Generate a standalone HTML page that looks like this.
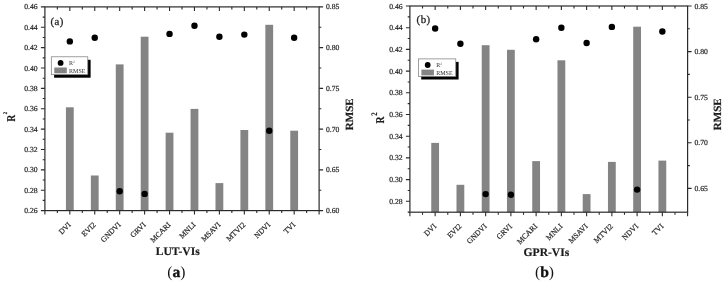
<!DOCTYPE html>
<html><head><meta charset="utf-8"><title>LUT-VIs vs GPR-VIs</title>
<style>
html,body{margin:0;padding:0;background:#fff;}
body{width:728px;height:284px;overflow:hidden;}
svg{display:block;}
text{font-family:'Liberation Serif', 'Times New Roman', serif;fill:#262626;stroke:#262626;stroke-width:0.2px;text-rendering:geometricPrecision;}
.t{font-size:7.7px;}
.b{font-weight:bold;fill:#1a1a1a;}
</style></head><body>
<svg width="728" height="284" viewBox="0 0 728 284">
<rect width="728" height="284" fill="#fff"/>
<g>
<rect x="65.93" y="107.3" width="7.8" height="103.3" fill="#848484"/>
<rect x="90.85" y="175.5" width="7.8" height="35.1" fill="#848484"/>
<rect x="115.78" y="64.4" width="7.8" height="146.2" fill="#848484"/>
<rect x="140.71" y="36.7" width="7.8" height="173.9" fill="#848484"/>
<rect x="165.64" y="132.7" width="7.8" height="77.9" fill="#848484"/>
<rect x="190.56" y="108.9" width="7.8" height="101.7" fill="#848484"/>
<rect x="215.49" y="183.1" width="7.8" height="27.5" fill="#848484"/>
<rect x="240.42" y="130" width="7.8" height="80.6" fill="#848484"/>
<rect x="265.35" y="24.8" width="7.8" height="185.8" fill="#848484"/>
<rect x="290.27" y="130.7" width="7.8" height="79.9" fill="#848484"/>
<circle cx="69.83" cy="41.4" r="3.2" fill="#000"/>
<circle cx="94.75" cy="37.7" r="3.2" fill="#000"/>
<circle cx="119.68" cy="191.3" r="3.2" fill="#000"/>
<circle cx="144.61" cy="193.9" r="3.2" fill="#000"/>
<circle cx="169.54" cy="33.9" r="3.2" fill="#000"/>
<circle cx="194.46" cy="25.8" r="3.2" fill="#000"/>
<circle cx="219.39" cy="36.8" r="3.2" fill="#000"/>
<circle cx="244.32" cy="34.6" r="3.2" fill="#000"/>
<circle cx="269.25" cy="130.7" r="3.2" fill="#000"/>
<circle cx="294.17" cy="37.7" r="3.2" fill="#000"/>
<rect x="44.9" y="6.9" width="274.2" height="203.7" fill="none" stroke="#2a2a2a" stroke-width="1.2"/>
<text class="t" x="37.7" y="9.4" text-anchor="end">0.46</text>
<text class="t" x="37.7" y="29.77" text-anchor="end">0.44</text>
<text class="t" x="37.7" y="50.14" text-anchor="end">0.42</text>
<text class="t" x="37.7" y="70.51" text-anchor="end">0.40</text>
<text class="t" x="37.7" y="90.88" text-anchor="end">0.38</text>
<text class="t" x="37.7" y="111.25" text-anchor="end">0.36</text>
<text class="t" x="37.7" y="131.62" text-anchor="end">0.34</text>
<text class="t" x="37.7" y="151.99" text-anchor="end">0.32</text>
<text class="t" x="37.7" y="172.36" text-anchor="end">0.30</text>
<text class="t" x="37.7" y="192.73" text-anchor="end">0.28</text>
<text class="t" x="37.7" y="213.1" text-anchor="end">0.26</text>
<text class="t" x="325.9" y="9.4">0.85</text>
<text class="t" x="325.9" y="50.14">0.80</text>
<text class="t" x="325.9" y="90.88">0.75</text>
<text class="t" x="325.9" y="131.62">0.70</text>
<text class="t" x="325.9" y="172.36">0.65</text>
<text class="t" x="325.9" y="213.1">0.60</text>
<path d="M44.9 6.9h-4 M44.9 27.27h-4 M44.9 47.64h-4 M44.9 68.01h-4 M44.9 88.38h-4 M44.9 108.75h-4 M44.9 129.12h-4 M44.9 149.49h-4 M44.9 169.86h-4 M44.9 190.23h-4 M44.9 210.6h-4 M44.9 17.09h-2.2 M44.9 37.45h-2.2 M44.9 57.83h-2.2 M44.9 78.19h-2.2 M44.9 98.56h-2.2 M44.9 118.94h-2.2 M44.9 139.31h-2.2 M44.9 159.68h-2.2 M44.9 180.05h-2.2 M44.9 200.42h-2.2 M319.1 6.9h4 M319.1 47.64h4 M319.1 88.38h4 M319.1 129.12h4 M319.1 169.86h4 M319.1 210.6h4 M319.1 27.27h2.2 M319.1 68.01h2.2 M319.1 108.75h2.2 M319.1 149.49h2.2 M319.1 190.23h2.2 M57.36 6.9v2.5 M57.36 210.6v2.5 M69.83 6.9v4 M69.83 210.6v4 M82.29 6.9v2.5 M82.29 210.6v2.5 M94.75 6.9v4 M94.75 210.6v4 M107.22 6.9v2.5 M107.22 210.6v2.5 M119.68 6.9v4 M119.68 210.6v4 M132.15 6.9v2.5 M132.15 210.6v2.5 M144.61 6.9v4 M144.61 210.6v4 M157.07 6.9v2.5 M157.07 210.6v2.5 M169.54 6.9v4 M169.54 210.6v4 M182 6.9v2.5 M182 210.6v2.5 M194.46 6.9v4 M194.46 210.6v4 M206.93 6.9v2.5 M206.93 210.6v2.5 M219.39 6.9v4 M219.39 210.6v4 M231.85 6.9v2.5 M231.85 210.6v2.5 M244.32 6.9v4 M244.32 210.6v4 M256.78 6.9v2.5 M256.78 210.6v2.5 M269.25 6.9v4 M269.25 210.6v4 M281.71 6.9v2.5 M281.71 210.6v2.5 M294.17 6.9v4 M294.17 210.6v4 M306.64 6.9v2.5 M306.64 210.6v2.5 M44.9 210.6v4 M319.1 210.6v4" stroke="#2a2a2a" stroke-width="1.1" fill="none"/>
<text class="t" x="71.43" y="225.2" text-anchor="end" transform="rotate(-45 71.43 225.2)">DVI</text>
<text class="t" x="96.35" y="225.2" text-anchor="end" transform="rotate(-45 96.35 225.2)">EVI2</text>
<text class="t" x="121.28" y="225.2" text-anchor="end" transform="rotate(-45 121.28 225.2)">GNDVI</text>
<text class="t" x="146.21" y="225.2" text-anchor="end" transform="rotate(-45 146.21 225.2)">GRVI</text>
<text class="t" x="171.14" y="225.2" text-anchor="end" transform="rotate(-45 171.14 225.2)">MCARI</text>
<text class="t" x="196.06" y="225.2" text-anchor="end" transform="rotate(-45 196.06 225.2)">MNLI</text>
<text class="t" x="220.99" y="225.2" text-anchor="end" transform="rotate(-45 220.99 225.2)">MSAVI</text>
<text class="t" x="245.92" y="225.2" text-anchor="end" transform="rotate(-45 245.92 225.2)">MTVI2</text>
<text class="t" x="270.85" y="225.2" text-anchor="end" transform="rotate(-45 270.85 225.2)">NDVI</text>
<text class="t" x="295.77" y="225.2" text-anchor="end" transform="rotate(-45 295.77 225.2)">TVI</text>
<text x="50.4" y="25" style="font-size:10.8px;stroke-width:0.3px;letter-spacing:0.45px">(a)</text>
<rect x="54.1" y="59.8" width="36.5" height="17.9" fill="#000"/>
<rect x="51.3" y="56.8" width="36.5" height="17.9" fill="#fff" stroke="#777" stroke-width="0.7"/>
<circle cx="60.6" cy="62.9" r="2.9" fill="#000"/>
<rect x="54.3" y="67.5" width="12.5" height="5.8" fill="#848484"/>
<text x="69.1" y="64.9" style="font-size:6px;stroke:none;fill:#333">R<tspan dy="-2.4" style="font-size:3.6px">2</tspan></text>
<text x="69.1" y="72.8" style="font-size:6px;stroke:none;fill:#333" textLength="16.4" lengthAdjust="spacingAndGlyphs">RMSE</text>
<text class="b" x="0" y="0" style="font-size:12px" transform="translate(14.6 121.7) rotate(-90) scale(0.8 1)">R<tspan dx="0.6" dy="-7.8" style="font-size:5.6px">2</tspan></text>
<text class="b" x="0" y="0" text-anchor="middle" style="font-size:11px" transform="translate(353 114.3) rotate(-90)">RMSE</text>
<text class="b" x="177.7" y="255.4" text-anchor="middle" style="font-size:11.6px">LUT-VIs</text>
<text x="176.4" y="277" text-anchor="middle" style="font-size:15.6px;fill:#111;stroke:none">(<tspan style="font-weight:bold;stroke:#111;stroke-width:0.3px">a</tspan>)</text>
</g>
<g>
<rect x="431.25" y="142.9" width="7.8" height="69.3" fill="#848484"/>
<rect x="456.49" y="184.8" width="7.8" height="27.4" fill="#848484"/>
<rect x="481.74" y="45.2" width="7.8" height="167" fill="#848484"/>
<rect x="506.98" y="49.8" width="7.8" height="162.4" fill="#848484"/>
<rect x="532.23" y="161.1" width="7.8" height="51.1" fill="#848484"/>
<rect x="557.47" y="60.3" width="7.8" height="151.9" fill="#848484"/>
<rect x="582.72" y="194.1" width="7.8" height="18.1" fill="#848484"/>
<rect x="607.96" y="161.9" width="7.8" height="50.3" fill="#848484"/>
<rect x="633.21" y="26.7" width="7.8" height="185.5" fill="#848484"/>
<rect x="658.45" y="160.6" width="7.8" height="51.6" fill="#848484"/>
<circle cx="435.15" cy="28.5" r="3.2" fill="#000"/>
<circle cx="460.39" cy="43.8" r="3.2" fill="#000"/>
<circle cx="485.64" cy="194.1" r="3.2" fill="#000"/>
<circle cx="510.88" cy="194.7" r="3.2" fill="#000"/>
<circle cx="536.13" cy="39.2" r="3.2" fill="#000"/>
<circle cx="561.37" cy="27.8" r="3.2" fill="#000"/>
<circle cx="586.62" cy="43" r="3.2" fill="#000"/>
<circle cx="611.86" cy="26.9" r="3.2" fill="#000"/>
<circle cx="637.11" cy="189.6" r="3.2" fill="#000"/>
<circle cx="662.35" cy="31.5" r="3.2" fill="#000"/>
<rect x="409.9" y="6" width="277.7" height="206.2" fill="none" stroke="#2a2a2a" stroke-width="1.2"/>
<text class="t" x="402.7" y="8.5" text-anchor="end">0.46</text>
<text class="t" x="402.7" y="30.2" text-anchor="end">0.44</text>
<text class="t" x="402.7" y="51.9" text-anchor="end">0.42</text>
<text class="t" x="402.7" y="73.6" text-anchor="end">0.40</text>
<text class="t" x="402.7" y="95.3" text-anchor="end">0.38</text>
<text class="t" x="402.7" y="117" text-anchor="end">0.36</text>
<text class="t" x="402.7" y="138.7" text-anchor="end">0.34</text>
<text class="t" x="402.7" y="160.4" text-anchor="end">0.32</text>
<text class="t" x="402.7" y="182.1" text-anchor="end">0.30</text>
<text class="t" x="402.7" y="203.8" text-anchor="end">0.28</text>
<text class="t" x="694.4" y="8.5">0.85</text>
<text class="t" x="694.4" y="54.1">0.80</text>
<text class="t" x="694.4" y="99.7">0.75</text>
<text class="t" x="694.4" y="145.3">0.70</text>
<text class="t" x="694.4" y="190.9">0.65</text>
<path d="M409.9 6h-4 M409.9 27.7h-4 M409.9 49.4h-4 M409.9 71.1h-4 M409.9 92.8h-4 M409.9 114.5h-4 M409.9 136.2h-4 M409.9 157.9h-4 M409.9 179.6h-4 M409.9 201.3h-4 M409.9 16.85h-2.2 M409.9 38.55h-2.2 M409.9 60.25h-2.2 M409.9 81.95h-2.2 M409.9 103.65h-2.2 M409.9 125.35h-2.2 M409.9 147.05h-2.2 M409.9 168.75h-2.2 M409.9 190.45h-2.2 M409.9 212.15h-2.2 M687.6 6h4 M687.6 51.6h4 M687.6 97.2h4 M687.6 142.8h4 M687.6 188.4h4 M687.6 28.8h2.2 M687.6 74.4h2.2 M687.6 120h2.2 M687.6 165.6h2.2 M422.52 6v2.5 M422.52 212.2v2.5 M435.15 6v4 M435.15 212.2v4 M447.77 6v2.5 M447.77 212.2v2.5 M460.39 6v4 M460.39 212.2v4 M473.01 6v2.5 M473.01 212.2v2.5 M485.64 6v4 M485.64 212.2v4 M498.26 6v2.5 M498.26 212.2v2.5 M510.88 6v4 M510.88 212.2v4 M523.5 6v2.5 M523.5 212.2v2.5 M536.13 6v4 M536.13 212.2v4 M548.75 6v2.5 M548.75 212.2v2.5 M561.37 6v4 M561.37 212.2v4 M574 6v2.5 M574 212.2v2.5 M586.62 6v4 M586.62 212.2v4 M599.24 6v2.5 M599.24 212.2v2.5 M611.86 6v4 M611.86 212.2v4 M624.49 6v2.5 M624.49 212.2v2.5 M637.11 6v4 M637.11 212.2v4 M649.73 6v2.5 M649.73 212.2v2.5 M662.35 6v4 M662.35 212.2v4 M674.98 6v2.5 M674.98 212.2v2.5 M409.9 212.2v4 M687.6 212.2v4" stroke="#2a2a2a" stroke-width="1.1" fill="none"/>
<text class="t" x="436.75" y="226.8" text-anchor="end" transform="rotate(-45 436.75 226.8)">DVI</text>
<text class="t" x="461.99" y="226.8" text-anchor="end" transform="rotate(-45 461.99 226.8)">EVI2</text>
<text class="t" x="487.24" y="226.8" text-anchor="end" transform="rotate(-45 487.24 226.8)">GNDVI</text>
<text class="t" x="512.48" y="226.8" text-anchor="end" transform="rotate(-45 512.48 226.8)">GRVI</text>
<text class="t" x="537.73" y="226.8" text-anchor="end" transform="rotate(-45 537.73 226.8)">MCARI</text>
<text class="t" x="562.97" y="226.8" text-anchor="end" transform="rotate(-45 562.97 226.8)">MNLI</text>
<text class="t" x="588.22" y="226.8" text-anchor="end" transform="rotate(-45 588.22 226.8)">MSAVI</text>
<text class="t" x="613.46" y="226.8" text-anchor="end" transform="rotate(-45 613.46 226.8)">MTVI2</text>
<text class="t" x="638.71" y="226.8" text-anchor="end" transform="rotate(-45 638.71 226.8)">NDVI</text>
<text class="t" x="663.95" y="226.8" text-anchor="end" transform="rotate(-45 663.95 226.8)">TVI</text>
<text x="416.6" y="23.4" style="font-size:10.8px;stroke-width:0.3px;letter-spacing:0.45px">(b)</text>
<rect x="421.2" y="61.9" width="37.4" height="17.6" fill="#000"/>
<rect x="418.4" y="58.9" width="37.4" height="17.6" fill="#fff" stroke="#777" stroke-width="0.7"/>
<circle cx="427.7" cy="65" r="2.9" fill="#000"/>
<rect x="421.4" y="69.6" width="12.5" height="5.8" fill="#848484"/>
<text x="436.2" y="67" style="font-size:6px;stroke:none;fill:#333">R<tspan dy="-2.4" style="font-size:3.6px">2</tspan></text>
<text x="436.2" y="74.9" style="font-size:6px;stroke:none;fill:#333" textLength="16.4" lengthAdjust="spacingAndGlyphs">RMSE</text>
<text class="b" x="0" y="0" style="font-size:12px" transform="translate(383.6 123.5) rotate(-90) scale(0.8 1)">R<tspan dx="1" dy="-6.3" style="font-size:8.4px">2</tspan></text>
<text class="b" x="0" y="0" text-anchor="middle" style="font-size:11px" transform="translate(721 114.3) rotate(-90)">RMSE</text>
<text class="b" x="546.4" y="256.4" text-anchor="middle" style="font-size:11.6px">GPR-VIs</text>
<text x="544.5" y="277" text-anchor="middle" style="font-size:15.6px;fill:#111;stroke:none">(<tspan style="font-weight:bold;stroke:#111;stroke-width:0.3px">b</tspan>)</text>
</g>
</svg>
</body></html>
